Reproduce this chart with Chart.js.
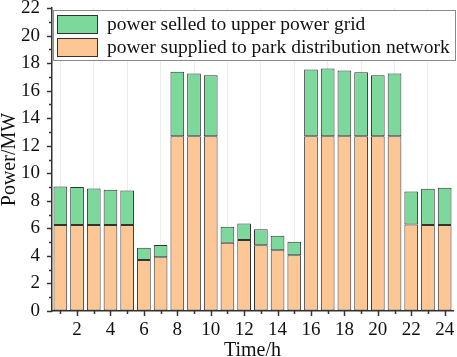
<!DOCTYPE html>
<html>
<head>
<meta charset="utf-8">
<script src="https://cdn.jsdelivr.net/npm/chart.js@4.4.1/dist/chart.umd.min.js"></script>
<style>
  html, body { margin: 0; padding: 0; background: #fff; }
  #wrap { width: 457px; height: 357px; }
</style>
</head>
<body>
<div id="wrap"><canvas id="chart1"></canvas></div>
<script>
const hours = ['1','2','3','4','5','6','7','8','9','10','11','12','13','14','15','16','17','18','19','20','21','22','23','24'];
// orange part (bottom of stack)
const supplied = [6.25, 6.25, 6.25, 6.25, 6.25, 3.7, 3.9, 12.7, 12.7, 12.7, 4.95, 5.15, 4.78, 4.42, 4.05, 12.7, 12.7, 12.7, 12.7, 12.7, 12.7, 6.28, 6.25, 6.25];
// green part (on top)
const selled = [2.8, 2.75, 2.65, 2.55, 2.51, 0.9, 0.9, 4.67, 4.55, 4.43, 1.17, 1.2, 1.15, 1.05, 0.98, 4.84, 4.91, 4.77, 4.64, 4.43, 4.55, 2.39, 2.62, 2.71];
const yTicks = [0, 2, 4, 6, 8, 10, 12, 14, 16, 18, 20, 22];

const serif = 'Liberation Serif';
const axisColor = '#333333';

// outward major/minor tick marks
const tickMarks = {
  id: 'tickMarks',
  afterDraw(chart) {
    const c = chart.ctx;
    const area = chart.chartArea;
    const xs = chart.scales.x, ys = chart.scales.y;
    c.save();
    c.strokeStyle = axisColor;
    c.lineWidth = 1.5;
    for (let v = 0; v <= 22; v++) {
      const py = Math.round(ys.getPixelForValue(v)) + 0.5;
      const len = yTicks.includes(v) ? 5 : 3;
      c.beginPath();
      c.moveTo(area.left, py);
      c.lineTo(area.left - len, py);
      c.stroke();
    }
    hours.forEach((h, i) => {
      const px = Math.round(xs.getPixelForValue(i)) + 0.5;
      const len = (i % 2 === 1) ? 5 : 3;
      c.beginPath();
      c.moveTo(px, area.bottom);
      c.lineTo(px, area.bottom + len);
      c.stroke();
    });
    c.restore();
  }
};

// boxed legend in the top-left corner of the plot, green item first
const boxLegend = {
  id: 'boxLegend',
  afterDraw(chart) {
    const c = chart.ctx;
    const area = chart.chartArea;
    const left = area.left + 1, top = area.top + 2;
    const right = chart.width - 2;
    c.save();
    c.fillStyle = '#ffffff';
    c.fillRect(left, top, right - left, 50);
    c.strokeStyle = '#8a8a8a';
    c.lineWidth = 1;
    c.strokeRect(Math.round(left) + 0.5, Math.round(top) + 0.5, Math.round(right - left), 50);
    const items = chart.data.datasets.slice().reverse();
    c.font = '19.5px "' + serif + '"';
    c.textBaseline = 'middle';
    items.forEach((ds, i) => {
      const by = top + 5 + i * 23;
      c.fillStyle = ds.backgroundColor;
      c.fillRect(left + 4, by, 40, 18);
      c.strokeStyle = axisColor;
      c.strokeRect(Math.round(left + 4) + 0.5, Math.round(by) + 0.5, 40, 18);
      c.fillStyle = '#111';
      c.fillText(ds.label, left + 54, by + 10);
    });
    c.restore();
  }
};

const ctx = document.getElementById('chart1').getContext('2d');
const myChart = new Chart(ctx, {
  type: 'bar',
  data: {
    labels: hours,
    datasets: [{
      label: 'power supplied to park distribution network',
      data: supplied,
      backgroundColor: '#fdc795',
      borderColor: axisColor,
      borderWidth: 1,
      borderSkipped: false,
      categoryPercentage: 1.0,
      barPercentage: 0.82
    }, {
      label: 'power selled to upper power grid',
      data: selled,
      backgroundColor: '#7dd89b',
      borderColor: axisColor,
      borderWidth: 1,
      borderSkipped: false,
      categoryPercentage: 1.0,
      barPercentage: 0.82
    }]
  },
  options: {
    responsive: true,
    maintainAspectRatio: false,
    animation: false,
    layout: { padding: { top: 0, right: 4, left: 0, bottom: -4 } },
    plugins: {
      legend: { display: false },
      tooltip: { enabled: false }
    },
    scales: {
      x: {
        stacked: true,
        grid: {
          offset: false,
          drawTicks: true,
          tickLength: 10,
          tickColor: 'rgba(0,0,0,0)',
          color: (c) => (c.index % 2 === 0 ? '#ececec' : 'rgba(0,0,0,0)')
        },
        border: { display: true, color: axisColor, width: 1.5 },
        ticks: {
          autoSkip: false,
          maxRotation: 0,
          padding: 0,
          color: '#111',
          font: { family: serif, size: 19, lineHeight: 1 },
          callback: function(value, index) {
            return (index % 2 === 1) ? hours[index] : '';
          }
        },
        title: {
          display: true,
          text: 'Time/h',
          color: '#111',
          padding: { top: 1, bottom: 0 },
          font: { family: serif, size: 20, lineHeight: 1 }
        }
      },
      y: {
        stacked: true,
        min: 0,
        max: 22,
        grid: {
          drawTicks: true,
          tickLength: 12,
          tickColor: 'rgba(0,0,0,0)',
          color: (c) => (c.tick && c.tick.value % 2 === 1 ? '#ececec' : 'rgba(0,0,0,0)')
        },
        border: { display: true, color: axisColor, width: 1.5 },
        ticks: {
          stepSize: 1,
          padding: 0,
          color: '#111',
          font: { family: serif, size: 19, lineHeight: 0.85 },
          callback: function(value) {
            return yTicks.includes(value) ? value : '';
          }
        },
        title: {
          display: true,
          text: 'Power/MW',
          color: '#111',
          padding: { top: 0, bottom: 1 },
          font: { family: serif, size: 20, lineHeight: 1 }
        }
      }
    }
  },
  plugins: [tickMarks, boxLegend]
});
</script>
</body>
</html>
